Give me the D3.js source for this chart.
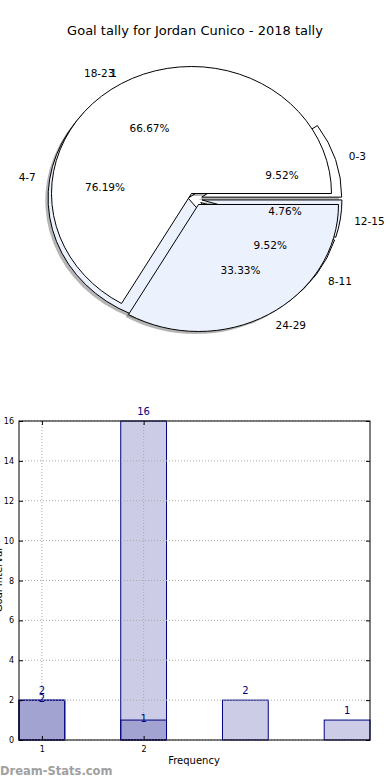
<!DOCTYPE html>
<html><head><meta charset="utf-8">
<script src="https://cdn.jsdelivr.net/npm/d3@7"></script>
<style>body{margin:0;background:#fff;} text{font-family:"DejaVu Sans",sans-serif;}</style>
</head><body><svg id="c" width="390" height="780"></svg>
<script>
// ---- data ----
const title = "Goal tally for Jordan Cunico - 2018 tally";
const pieALabels = ["18-23", "24-29"];
const pieAValues = [66.67, 33.33];
const pieBLabels = ["0-3", "4-7", "8-11", "12-15"];
const pieBValues = [9.52, 76.19, 9.52, 4.76];
const barPositions = [1, 2, 3, 4];
const barSeriesLight = [2, 16, 2, 1];
const barSeriesDarkPos = [1, 2];
const barSeriesDark = [2, 1];
const yTicks = [0, 2, 4, 6, 8, 10, 12, 14, 16];
const xTicks = [1, 2];
const xLabel = "Frequency";
const yLabel = "Goal Interval";
const watermark = "Dream-Stats.com";

const svg = d3.select("#c");

svg.append("text").attr("x", 195).attr("y", 30).attr("text-anchor", "middle")
  .attr("dominant-baseline", "central").attr("font-size", 13).text(title);

// ---- pies ----
const cx = 195, cy = 199, rx = 140, ry = 127, k = ry / rx, explode = 0.05;
const colors = ["#ffffff", "#ebf1fd"];
const pie = d3.pie().sort(null).startAngle(Math.PI / 2).endAngle(Math.PI / 2 - 2 * Math.PI);
const arc = d3.arc().innerRadius(0).outerRadius(rx);
const arcsA = pie(pieAValues).map((d, i) => ({...d, label: pieALabels[i], color: colors[i % 2]}));
const arcsB = pie(pieBValues).map((d, i) => ({...d, label: pieBLabels[i], color: colors[i % 2]}));
function mid(d) { return (d.startAngle + d.endAngle) / 2; }
function off(d) { const a = mid(d); return [Math.sin(a) * explode * rx, -Math.cos(a) * explode * rx]; }

const pg = svg.append("g").attr("transform", `translate(${cx},${cy}) scale(1,${k})`);
[arcsB, arcsA].forEach(arcs => {
  pg.selectAll(null).data(arcs).enter().append("path")
    .attr("d", arc)
    .attr("transform", d => { const o = off(d); return `translate(${o[0] - 2.8},${o[1] + 2.8})`; })
    .attr("fill", "rgba(70,70,70,0.4)").attr("stroke", "none");
});
[arcsB, arcsA].forEach(arcs => {
  pg.selectAll(null).data(arcs).enter().append("path")
    .attr("d", arc)
    .attr("transform", d => { const o = off(d); return `translate(${o[0]},${o[1]})`; })
    .attr("fill", d => d.color).attr("stroke", "#000").attr("stroke-width", 1)
    .attr("vector-effect", "non-scaling-stroke").attr("stroke-linejoin", "miter");
});
[arcsB, arcsA].forEach(arcs => {
  arcs.forEach(d => {
    const a = mid(d), s = Math.sin(a), c = Math.cos(a);
    const lx = cx + (1.1 + explode) * rx * s, ly = cy - (1.1 + explode) * ry * c;
    svg.append("text").attr("x", lx).attr("y", ly)
      .attr("text-anchor", s >= 0 ? "start" : "end").attr("dominant-baseline", "central")
      .attr("font-size", 10.5).text(d.label);
    const px = cx + (0.6 + explode) * rx * s, py = cy - (0.6 + explode) * ry * c;
    svg.append("text").attr("x", px).attr("y", py).attr("text-anchor", "middle")
      .attr("dominant-baseline", "central").attr("font-size", 10.5).text(d.data.toFixed(2) + "%");
  });
});
svg.append("text").attr("x", 117).attr("y", 72.5).attr("text-anchor", "end")
  .attr("dominant-baseline", "central").attr("font-size", 10.5).text("1");

// ---- bars ----
const L = 19, R = 370, T = 421, B = 740, bw = 0.45;
const x = d3.scaleLinear().domain([0.775, 4.225]).range([L, R]);
const y = d3.scaleLinear().domain([0, 16]).range([B, T]);
const navy = "#000080";
const bg = svg.append("g");
bg.selectAll(null).data(barPositions.map((p, i) => [p, barSeriesLight[i]])).enter().append("rect")
  .attr("x", d => x(d[0] - bw / 2)).attr("width", d => x(d[0] + bw / 2) - x(d[0] - bw / 2))
  .attr("y", d => y(d[1])).attr("height", d => y(0) - y(d[1]))
  .attr("fill", navy).attr("fill-opacity", 0.2).attr("stroke", navy).attr("stroke-width", 1);
bg.selectAll(null).data(barSeriesDarkPos.map((p, i) => [p, barSeriesDark[i]])).enter().append("rect")
  .attr("x", d => x(d[0] - bw / 2)).attr("width", d => x(d[0] + bw / 2) - x(d[0] - bw / 2))
  .attr("y", d => y(d[1])).attr("height", d => y(0) - y(d[1]))
  .attr("fill", navy).attr("fill-opacity", 0.2).attr("stroke", navy).attr("stroke-width", 1);
const grid = svg.append("g").attr("stroke", "#aaa").attr("stroke-width", 1).attr("stroke-dasharray", "1,2");
yTicks.forEach(t => grid.append("line").attr("x1", L).attr("x2", R).attr("y1", y(t)).attr("y2", y(t)));
xTicks.forEach(t => grid.append("line").attr("x1", x(t)).attr("x2", x(t)).attr("y1", T).attr("y2", B));
barPositions.forEach((p, i) => svg.append("text").attr("x", x(p)).attr("y", y(barSeriesLight[i]) - 6)
  .attr("text-anchor", "middle").attr("font-size", 10).attr("fill", navy).text(barSeriesLight[i]));
barSeriesDarkPos.forEach((p, i) => svg.append("text").attr("x", x(p)).attr("y", y(barSeriesDark[i]) + 1.5)
  .attr("text-anchor", "middle").attr("font-size", 10).attr("fill", navy).text(barSeriesDark[i]));
svg.append("rect").attr("x", L).attr("y", T).attr("width", R - L).attr("height", B - T)
  .attr("fill", "none").attr("stroke", "#000").attr("stroke-width", 1);
const yAxisL = svg.append("g").attr("transform", `translate(${L},0)`)
  .call(d3.axisLeft(y).tickValues(yTicks).tickSize(-4).tickPadding(5).tickFormat(d3.format("d")));
const yAxisR = svg.append("g").attr("transform", `translate(${R},0)`)
  .call(d3.axisRight(y).tickValues(yTicks).tickSize(-4).tickFormat(""));
const xAxisB = svg.append("g").attr("transform", `translate(0,${B})`)
  .call(d3.axisBottom(x).tickValues(xTicks).tickSize(-4).tickPadding(6).tickFormat(d3.format("d")));
const xAxisT = svg.append("g").attr("transform", `translate(0,${T})`)
  .call(d3.axisTop(x).tickValues(xTicks).tickSize(-4).tickFormat(""));
[yAxisL, yAxisR, xAxisB, xAxisT].forEach(a => {
  a.select(".domain").remove();
  a.selectAll("text").attr("font-size", 8).attr("font-family", "DejaVu Sans");
});
svg.append("text").attr("x", 194).attr("y", 760).attr("text-anchor", "middle")
  .attr("dominant-baseline", "central").attr("font-size", 10).text(xLabel);
svg.append("text").attr("transform", "translate(1.5,580) rotate(-90)").attr("text-anchor", "middle")
  .attr("font-size", 10).text(yLabel);
svg.append("text").attr("x", 0).attr("y", 775).attr("font-size", 11.5).attr("font-weight", "bold")
  .attr("fill", "#a0a0a0").text(watermark);
</script></body></html>
